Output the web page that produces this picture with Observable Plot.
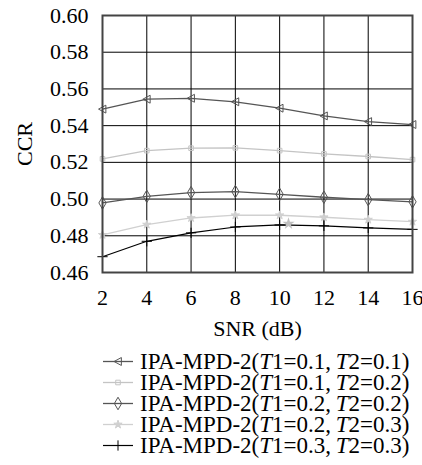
<!DOCTYPE html>
<html>
<head>
<meta charset="utf-8">
<script src="https://cdn.jsdelivr.net/npm/d3@7"></script>
<script src="https://cdn.jsdelivr.net/npm/@observablehq/plot@0.6"></script>
<style>
  body { margin: 0; background: white; width: 422px; height: 465px; overflow: hidden; position: relative; }
  #legend { position: absolute; left: 103px; top: 351px; font-family: "Liberation Serif", serif; font-size: 23px; color: black; }
  .row { height: 21px; line-height: 21px; display: flex; align-items: center; white-space: nowrap; }
  .row svg { margin-right: 7px; flex: none; }
  #chart svg text { font-family: "Liberation Serif", serif; }
</style>
</head>
<body>
<div id="chart"></div>
<div id="legend"></div>
<script>
const snr = [2, 4, 6, 8, 10, 12, 14, 16];
const yTicks = [0.46, 0.48, 0.50, 0.52, 0.54, 0.56, 0.58, 0.60];
const t1 = ["0.1", "0.1", "0.2", "0.2", "0.3"];
const t2 = ["0.1", "0.2", "0.2", "0.3", "0.3"];
const ccrA = [0.549, 0.5544, 0.5549, 0.553, 0.5495, 0.5453, 0.5422, 0.5406];
const ccrB = [0.5219, 0.5264, 0.5277, 0.5279, 0.5264, 0.5246, 0.5232, 0.5215];
const ccrC = [0.4979, 0.5015, 0.5035, 0.5041, 0.5026, 0.5010, 0.4997, 0.4985];
const ccrD = [0.4805, 0.4861, 0.4897, 0.4912, 0.4912, 0.4901, 0.4888, 0.4877];
const ccrE = [0.4686, 0.4770, 0.4816, 0.4848, 0.4859, 0.4854, 0.4843, 0.4835];
// stray marker visible in the figure
const strayX = [10.4];
const strayY = [0.4866];

const triLeft = {
  draw(ctx, size) {
    const s = Math.sqrt(size) * 0.62;
    ctx.moveTo(-s, 0);
    ctx.lineTo(s * 0.85, -s);
    ctx.lineTo(s * 0.85, s);
    ctx.closePath();
  }
};

const seriesVals = [ccrA, ccrB, ccrC, ccrD, ccrE];
const styles = [
  {color: "#555555", symbol: triLeft, fill: "none", r: 3.6, sw: 1.3},
  {color: "#c4c4c4", symbol: "square", fill: "none", r: 2.6, sw: 1.3},
  {color: "#555555", symbol: "diamond", fill: "none", r: 3.8, sw: 1.3},
  {color: "#d0d0d0", symbol: "star", fill: "#d0d0d0", r: 2.6, sw: 1.3},
  {color: "#000000", symbol: "plus", fill: "none", r: 3.4, sw: 1.2}
];

const tables = seriesVals.map(vals => snr.map((x, i) => ({x, y: vals[i]})));

const marks = [
  Plot.gridX(snr, {stroke: "black", strokeOpacity: 1, strokeWidth: 1}),
  Plot.gridY(yTicks, {stroke: "black", strokeOpacity: 1, strokeWidth: 1}),
  Plot.axisX({ticks: snr, tickSize: 0, tickPadding: 17, fontSize: 22, label: "SNR (dB)", labelAnchor: "center", labelOffset: 63, labelArrow: false}),
  Plot.axisY({ticks: yTicks, tickSize: 0, tickPadding: 14, fontSize: 22, tickFormat: d3.format(".2f"), label: "CCR", labelAnchor: "center", labelOffset: 86, labelArrow: false})
];
tables.forEach((t, k) => {
  const s = styles[k];
  marks.push(Plot.line(t, {x: "x", y: "y", stroke: s.color, strokeWidth: s.sw}));
  marks.push(Plot.dot(t, {x: "x", y: "y", symbol: () => s.symbol, stroke: s.color, fill: s.fill, r: s.r, strokeWidth: 1}));
});
marks.push(Plot.dot(strayX.map((x, i) => ({x, y: strayY[i]})), {x: "x", y: "y", symbol: () => "star", fill: "#c0c0c0", stroke: "#c0c0c0", r: 2.4}));
marks.push(Plot.frame({stroke: "#444444", strokeWidth: 2}));

const chart = Plot.plot({
  width: 422,
  height: 345,
  marginLeft: 102,
  marginRight: 10,
  marginTop: 15,
  marginBottom: 73,
  x: {domain: [2, 16]},
  y: {domain: [0.46, 0.60]},
  symbol: {type: "identity"},
  style: "font-family: 'Liberation Serif', serif; font-size: 22px; background: white; color: black; overflow: visible;",
  marks
});
document.getElementById("chart").appendChild(chart);

const legend = d3.select("#legend");
styles.forEach((s, k) => {
  const row = legend.append("div").attr("class", "row");
  const svg = row.append("svg").attr("width", 30).attr("height", 21);
  svg.append("line").attr("x1", 0).attr("x2", 30).attr("y1", 10.5).attr("y2", 10.5)
    .attr("stroke", s.color).attr("stroke-width", s.sw);
  const symType = typeof s.symbol === "string"
    ? {square: d3.symbolSquare, diamond: d3.symbolDiamond, star: d3.symbolStar, plus: d3.symbolPlus}[s.symbol]
    : s.symbol;
  const sym = d3.symbol(symType, Math.PI * s.r * s.r);
  svg.append("path").attr("d", sym()).attr("transform", "translate(15,10.5)")
    .attr("stroke", s.color).attr("fill", s.fill).attr("stroke-width", 1);
  const span = row.append("span");
  span.html(`IPA-MPD-2(<i>T</i>1=${t1[k]},&#8201;<i>T</i>2=${t2[k]})`);
});
</script>
</body>
</html>
